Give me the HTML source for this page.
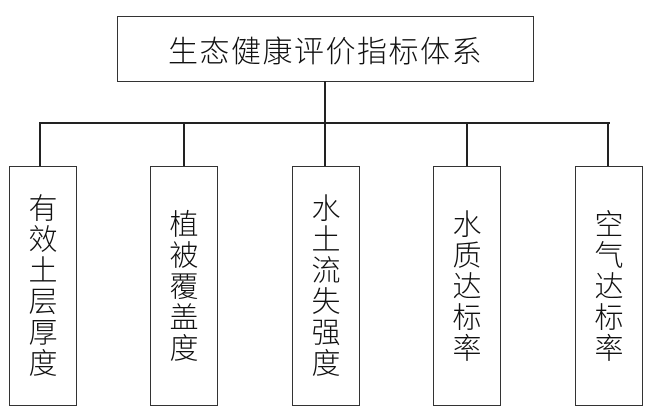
<!DOCTYPE html>
<html><head><meta charset="utf-8"><style>
html,body{margin:0;padding:0;background:#fff;}
body{width:650px;height:416px;position:relative;overflow:hidden;font-family:"Liberation Serif","Noto Serif CJK SC","Noto Sans CJK SC",serif;color:#111;}
.b{position:absolute;border:1.5px solid #333;box-sizing:border-box;background:#fff;}
.l{position:absolute;background:#222;}
.top{left:117px;top:16px;width:417px;height:66px;display:flex;align-items:center;justify-content:center;font-size:30px;letter-spacing:1.5px;font-family:"Noto Sans CJK SC",sans-serif;font-weight:300;}
.c{top:166px;width:68px;height:240px;display:flex;align-items:center;justify-content:center;}
.c span{writing-mode:vertical-rl;font-size:29px;letter-spacing:2px;font-family:"Noto Sans CJK SC",sans-serif;font-weight:300;}
</style></head><body>
<div class="b top">生态健康评价指标体系</div>
<div class="l" style="left:324px;top:81px;width:2px;height:43px"></div>
<div class="l" style="left:39px;top:122px;width:571px;height:2px"></div>
<div class="l" style="left:39px;top:122px;width:2px;height:44px"></div>
<div class="l" style="left:183px;top:122px;width:2px;height:44px"></div>
<div class="l" style="left:324px;top:122px;width:2px;height:44px"></div>
<div class="l" style="left:466px;top:122px;width:2px;height:44px"></div>
<div class="l" style="left:607px;top:122px;width:2px;height:44px"></div>
<div class="b c" style="left:9px"><span>有效土层厚度</span></div>
<div class="b c" style="left:150px"><span>植被覆盖度</span></div>
<div class="b c" style="left:292px"><span>水土流失强度</span></div>
<div class="b c" style="left:433px"><span>水质达标率</span></div>
<div class="b c" style="left:575px"><span>空气达标率</span></div>
</body></html>
